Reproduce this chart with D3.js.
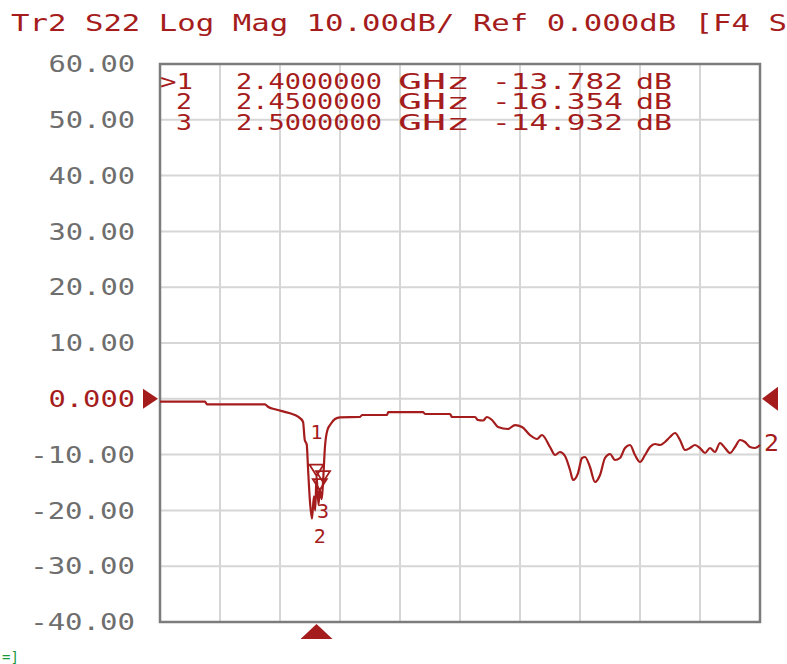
<!DOCTYPE html>
<html><head><meta charset="utf-8">
<script src="https://cdn.jsdelivr.net/npm/d3@7"></script>
<style>body{margin:0;background:#fff} svg{display:block}</style>
</head><body>
<svg id="c" width="787" height="664"></svg>
<script>
// ---- data ----
const titleText = "Tr2 S22 Log Mag 10.00dB/ Ref 0.000dB [F4 S";
const yTicks = [60, 50, 40, 30, 20, 10, 0, -10, -20, -30, -40];
const yTickLabels = ["60.00","50.00","40.00","30.00","20.00","10.00","0.000","-10.00","-20.00","-30.00","-40.00"];
const freqDomain = [0, 9.2]; // GHz
const refLevel = 0;
const markerIds = [">1", "2", "3"];
const markerFreqs = [2.4, 2.45, 2.5];
const markerValues = [-13.782, -16.354, -14.932];
const traceFreq = [0, 0.690, 0.721, 1.610, 1.656, 1.763, 1.993, 2.116, 2.193,
  2.22, 2.25, 2.27, 2.30, 2.33, 2.36, 2.38, 2.40, 2.43, 2.45, 2.48, 2.50, 2.53, 2.57,
  2.607, 2.683, 2.760, 3.067, 3.097, 3.481, 3.50, 4.033, 4.063, 4.447, 4.477, 4.830,
  4.876, 4.953, 5.014, 5.09, 5.183, 5.336, 5.443, 5.551, 5.673, 5.781, 5.857, 5.98,
  6.057, 6.133, 6.21, 6.287, 6.333, 6.41, 6.471, 6.517, 6.593, 6.67, 6.747, 6.823,
  6.90, 6.977, 7.053, 7.13, 7.207, 7.283, 7.36, 7.437, 7.513, 7.59, 7.667, 7.743,
  7.82, 7.897, 7.973, 8.05, 8.127, 8.203, 8.28, 8.357, 8.433, 8.51, 8.587, 8.663,
  8.74, 8.817, 8.893, 8.97, 9.047, 9.123, 9.2];
const traceDb = [-0.52, -0.52, -0.99, -0.99, -1.42, -1.88, -2.60, -3.21, -4.10,
  -7.4, -8.2, -12.5, -18.5, -21.5, -17.5, -20.0, -13.782, -19.0, -16.354, -18.0, -14.932, -8.5, -5.5,
  -4.70, -3.62, -3.32, -3.26, -2.9, -2.9, -2.37, -2.37, -2.72, -2.72, -3.26, -3.26,
  -3.80, -3.89, -3.26, -3.80, -5.05, -5.41, -4.70, -5.05, -6.49, -7.20, -6.49, -8.64,
  -10.07, -9.53, -10.25, -12.76, -14.55, -13.30, -10.61, -10.43, -12.22, -14.91, -13.66, -10.61,
  -9.89, -10.97, -10.61, -8.82, -8.28, -10.07, -11.33, -10.07, -8.64, -8.10, -8.28, -7.74,
  -6.85, -6.13, -7.38, -9.18, -8.82, -8.28, -8.82, -9.71, -8.82, -9.53, -7.92, -8.82,
  -9.71, -8.64, -7.38, -7.74, -8.64, -8.82, -8.28];

// ---- layout ----
const red = "#a51c1c", gridC = "#d6d6d6", frameC = "#7c7c7c", labelC = "#6e6e6e";
const font = "'DejaVu Sans Mono', monospace";
const L = 160, T = 64, W = 600, H = 558;
const svg = d3.select("#c");
const x = d3.scaleLinear().domain(freqDomain).range([L, L + W]);
const y = d3.scaleLinear().domain([-40, 60]).range([T + H, T]);

// grid
const xGrid = d3.range(11).map(i => freqDomain[0] + i * (freqDomain[1] - freqDomain[0]) / 10);
svg.append("g").selectAll("line").data(xGrid.slice(1, -1)).join("line")
  .attr("x1", d => x(d)).attr("x2", d => x(d)).attr("y1", T).attr("y2", T + H)
  .attr("stroke", gridC).attr("stroke-width", 2);
svg.append("g").selectAll("line").data(yTicks.slice(1, -1)).join("line")
  .attr("x1", L).attr("x2", L + W).attr("y1", d => y(d)).attr("y2", d => y(d))
  .attr("stroke", gridC).attr("stroke-width", 2);
svg.append("rect").attr("x", L).attr("y", T).attr("width", W).attr("height", H)
  .attr("fill", "none").attr("stroke", frameC).attr("stroke-width", 2.5);

// y labels
svg.append("g").selectAll("text").data(yTicks).join("text")
  .attr("x", 135).attr("y", d => y(d)).attr("dy", "0.36em")
  .attr("text-anchor", "end").attr("font-family", font).attr("font-size", 23)
  .attr("textLength", (d, i) => yTickLabels[i].length * 18.3 - 5)
  .attr("lengthAdjust", "spacingAndGlyphs")
  .attr("fill", d => d === refLevel ? red : labelC)
  .text((d, i) => yTickLabels[i]);

// title
svg.append("text").attr("x", 11).attr("y", 31).attr("font-family", font)
  .attr("font-size", 23).attr("fill", red)
  .attr("textLength", 776).attr("lengthAdjust", "spacingAndGlyphs").text(titleText);

// marker table
const fmtF = d3.format(".7f"), fmtV = d3.format(".3f");
const rows = svg.append("g").attr("font-family", font).attr("font-size", 22).attr("fill", red);
markerIds.forEach((id, i) => {
  const by = 89 + i * 20.3;
  const cells = [
    [i === 0 ? 160 : 176, i === 0 ? 33 : 16, id],
    [236, 146, fmtF(markerFreqs[i])],
    [398, 72, "GHz"],
    [492, 131, fmtV(markerValues[i]).replace("−", "-")],
    [636, 36, "dB"]
  ];
  cells.forEach(c => rows.append("text").attr("x", c[0]).attr("y", by)
    .attr("textLength", c[1]).attr("lengthAdjust", "spacingAndGlyphs").text(c[2]));
});

// trace
const pts = traceFreq.map((f, i) => [f, traceDb[i]]);
svg.append("path").datum(pts)
  .attr("d", d3.line().x(d => x(d[0])).y(d => y(d[1])).curve(d3.curveMonotoneX))
  .attr("fill", "none").attr("stroke", red).attr("stroke-width", 2.2)
  .attr("stroke-linejoin", "round");

// markers on trace
const labelOffsets = [-44, 46, 29];
markerFreqs.forEach((f, i) => {
  const mx = x(f), my = y(markerValues[i]);
  svg.append("path").attr("d", `M${mx - 7},${my - 11}L${mx + 7},${my - 11}L${mx},${my}Z`)
    .attr("fill", "none").attr("stroke", red).attr("stroke-width", 1.8);
  svg.append("text").attr("x", mx).attr("y", my + labelOffsets[i]).attr("dy", "0.36em")
    .attr("text-anchor", "middle").attr("font-family", font).attr("font-size", 20)
    .attr("fill", red).text(markerIds[i].replace(">", ""));
});

// reference level triangles
const ry = y(refLevel);
svg.append("path").attr("d", `M143,${ry - 10}L158,${ry}L143,${ry + 10}Z`).attr("fill", red);
svg.append("path").attr("d", `M778,${ry - 12}L762,${ry}L778,${ry + 12}Z`).attr("fill", red);
// trace end indicator
svg.append("text").attr("x", 764).attr("y", y(traceDb[traceDb.length - 1]) - 2).attr("dy", "0.36em")
  .attr("font-family", font).attr("font-size", 23).attr("fill", red)
  .attr("textLength", 15).attr("lengthAdjust", "spacingAndGlyphs").text("2");
// active marker stimulus triangle
const ax = x(markerFreqs[0]);
svg.append("path").attr("d", `M${ax - 16},${T + H + 17}L${ax + 16},${T + H + 17}L${ax},${T + H + 2}Z`).attr("fill", red);
// partial status text at bottom
svg.append("text").attr("x", 2).attr("y", 662).attr("font-family", font)
  .attr("font-size", 14).attr("fill", "#1a9a3a").text("=]");
</script>
</body></html>
